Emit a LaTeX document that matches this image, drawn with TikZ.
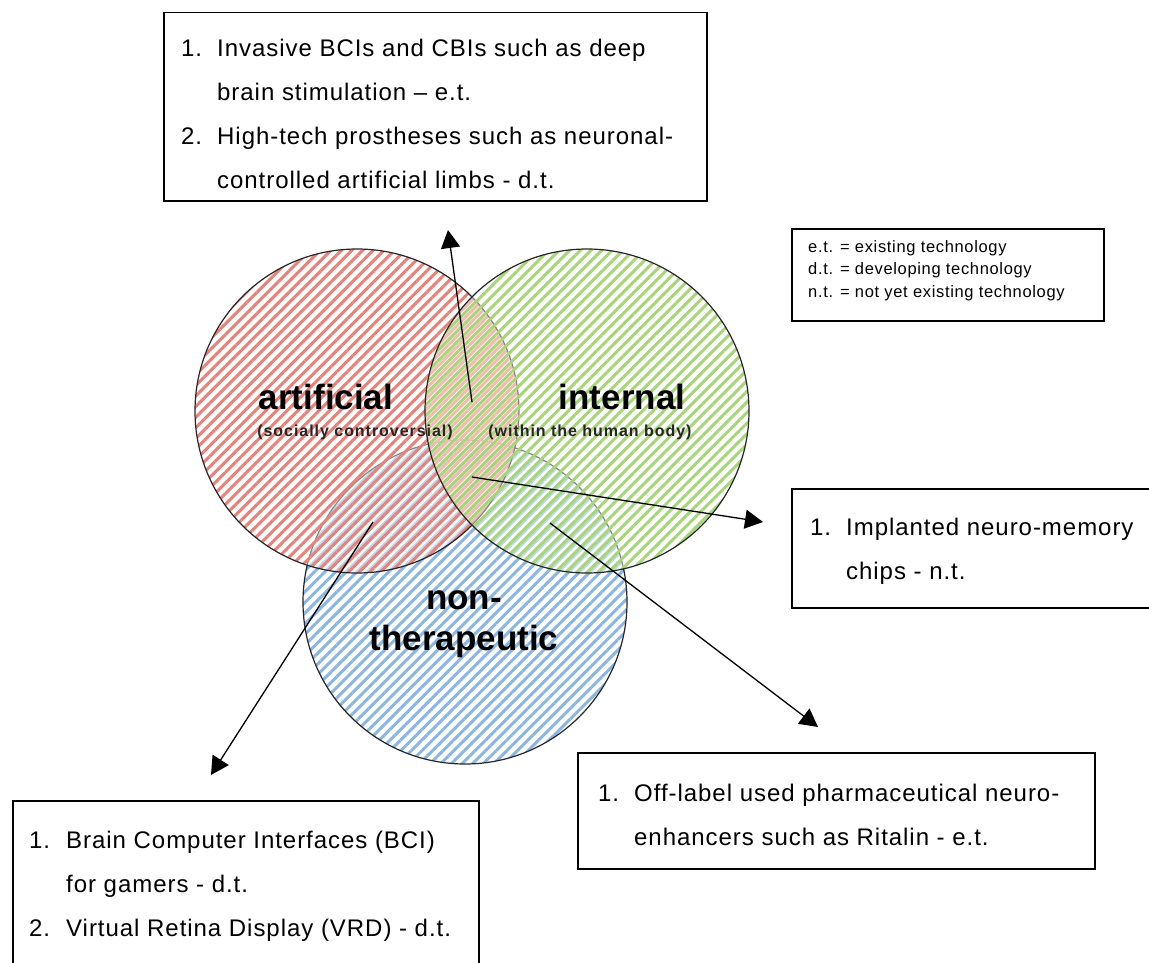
\documentclass[tikz,border=0pt]{standalone}
\usepackage{fontspec}
\setmainfont{Liberation Sans}
\newfontfamily\itemfont{Liberation Sans}[LetterSpace=4]
\newfontfamily\smallnotefont{Liberation Sans}[LetterSpace=6]
\usetikzlibrary{arrows.meta,patterns.meta}
\definecolor{artred}{RGB}{236,128,118}
\definecolor{intgreen}{RGB}{166,214,118}
\definecolor{ntblue}{RGB}{138,182,228}

\begin{document}
\begin{tikzpicture}[x=1pt,y=-1pt,
  listbox/.style={draw,line width=1.5pt,anchor=north west,inner sep=0pt},
  listtext/.style={anchor=base west,inner sep=0pt,font=\itemfont\fontsize{24}{44}\selectfont},
  legendtext/.style={anchor=base west,inner sep=0pt,font=\itemfont\fontsize{16.5}{22.5}\selectfont},
  vennset/.style={circle,minimum size=324pt,inner sep=0pt,draw=black!85,line width=1.2pt,
    preaction={fill=white,fill opacity=0.45}},
  setname/.style={inner sep=0pt,font=\bfseries\fontsize{35}{41}\selectfont},
  setnote/.style={inner sep=0pt,font=\smallnotefont\bfseries\fontsize{16}{18}\selectfont,text=black!85},
  link/.style={-{Triangle[length=18pt,width=19pt]},line width=1.3pt}]
\useasboundingbox (0,0) rectangle (1149,963);
\clip (0,0) rectangle (1149,963);

% the three sets
\node[vennset,pattern={Lines[angle=45,distance=7.5pt,line width=3pt,yshift=2.5pt]},pattern color=ntblue] (nth) at (465,602) {};
\node[vennset,pattern={Lines[angle=45,distance=7.5pt,line width=3pt]},pattern color=artred] (art) at (357,411) {};
\node[vennset,pattern={Lines[angle=45,distance=7.5pt,line width=3pt,yshift=5pt]},pattern color=intgreen] (int) at (587,411) {};

\node[setname] (artname) at (326,397) {artificial};
\node[setname] (intname) at (622,397) {internal};
\node[setname,align=center] (nthname) at (464,624) {non-\\therapeutic};
\node[setnote] (artnote) at (355,432) {(socially controversial)};
\node[setnote] (intnote) at (590,432) {(within the human body)};

% boxes
\node[listbox,minimum width=543pt,minimum height=188pt] (topbox) at (163,12) {};
\node[listtext] (toplist) at (181,57) {\begin{tabular}[t]{@{}p{36pt}@{}l@{}}
1. & Invasive BCIs and CBIs such as deep\\
 & brain stimulation \textendash{} e.t.\\
2. & High-tech prostheses such as neuronal-\\
 & controlled artificial limbs - d.t.
\end{tabular}};

\node[listbox,minimum width=312pt,minimum height=92pt] (keybox) at (791,228) {};
\node[legendtext] (keylist) at (808,252) {\begin{tabular}[t]{@{}l@{}}
e.t. = existing technology\\
d.t. = developing technology\\
n.t. = not yet existing technology
\end{tabular}};

\node[listbox,minimum width=380pt,minimum height=119pt] (rightbox) at (791,488) {};
\node[listtext] (rightlist) at (810,535) {\begin{tabular}[t]{@{}p{36pt}@{}l@{}}
1. & Implanted neuro-memory\\
 & chips - n.t.
\end{tabular}};

\node[listbox,minimum width=517pt,minimum height=116pt] (pharmbox) at (577,752) {};
\node[listtext] (pharmlist) at (598,801) {\begin{tabular}[t]{@{}p{36pt}@{}l@{}}
1. & Off-label used pharmaceutical neuro-\\
 & enhancers such as Ritalin - e.t.
\end{tabular}};

\node[listbox,minimum width=466pt,minimum height=180pt] (gamebox) at (12,800) {};
\node[listtext] (gamelist) at (29,848) {\begin{tabular}[t]{@{}p{37pt}@{}l@{}}
1. & Brain Computer Interfaces (BCI)\\
 & for gamers - d.t.\\
2. & Virtual Retina Display (VRD) - d.t.
\end{tabular}};

% arrows from the overlaps
\coordinate (artint) at (472,402);
\coordinate (allthree) at (472,477);
\coordinate (intnth) at (550,523);
\coordinate (artnth) at (373,522);
\coordinate (toptip) at (448,230);
\coordinate (righttip) at (763,522);
\coordinate (pharmtip) at (818,727);
\coordinate (gametip) at (211,775);
\draw[link] (artint) -- (toptip);
\draw[link] (allthree) -- (righttip);
\draw[link] (intnth) -- (pharmtip);
\draw[link] (artnth) -- (gametip);
\end{tikzpicture}
\end{document}
